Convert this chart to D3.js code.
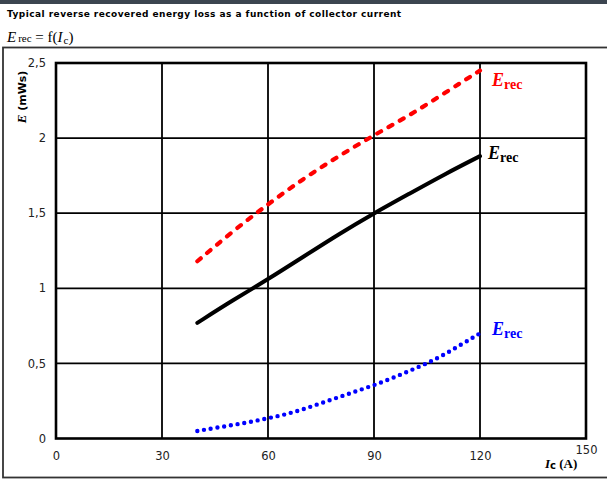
<!DOCTYPE html>
<html>
<head>
<meta charset="utf-8">
<script src="https://cdn.jsdelivr.net/npm/d3@7"></script>
<style>
  html, body { margin: 0; padding: 0; background: #fff; }
  svg { display: block; }
</style>
</head>
<body>
<script>
// Reverse recovered energy vs. collector current (three curves)
const currents = [40, 50, 60, 70, 80, 90, 100, 110, 120];
const erecHot = [1.18, 1.38, 1.56, 1.73, 1.88, 2.02, 2.15, 2.30, 2.45];
const erecMid = [0.77, 0.92, 1.06, 1.21, 1.36, 1.50, 1.63, 1.76, 1.88];
const currentsLow = [40, 45, 50, 55, 60, 65, 70, 75, 80, 85, 90, 95, 100, 105, 110, 115, 120];
const erecLow = [0.05, 0.07, 0.09, 0.11, 0.135, 0.16, 0.195, 0.235, 0.275, 0.315, 0.355, 0.40, 0.45, 0.50, 0.56, 0.63, 0.70];
const xTicks = [0, 30, 60, 90, 120, 150];
const yTicks = [0, 0.5, 1, 1.5, 2, 2.5];

const W = 607, H = 479;
const svg = d3.select("body").append("svg").attr("width", W).attr("height", H);

// header band and outer frame
svg.append("rect").attr("x", 0).attr("y", 0).attr("width", W).attr("height", 4).attr("fill", "#3c4550");
svg.append("text").attr("x", 7).attr("y", 17)
  .attr("font-family", "DejaVu Sans, Verdana, sans-serif").attr("font-size", 9).attr("font-weight", "bold")
  .attr("letter-spacing", 0.45).attr("fill", "#000")
  .text("Typical reverse recovered energy loss as a function of collector current");

const f = svg.append("text").attr("x", 7).attr("y", 42)
  .attr("font-family", "Liberation Serif, DejaVu Serif, serif").attr("font-size", 15).attr("fill", "#000");
f.append("tspan").attr("font-style", "italic").text("E");
f.append("tspan").attr("font-size", 11).attr("dx", 2).text("rec");
f.append("tspan").text(" = f(");
f.append("tspan").attr("font-style", "italic").text("I");
f.append("tspan").attr("font-size", 11).attr("dy", 2).attr("dx", 1).text("c");
f.append("tspan").attr("dy", -2).text(")");

svg.append("rect").attr("x", 3).attr("y", 47.5).attr("width", W + 10).attr("height", 430)
  .attr("fill", "none").attr("stroke", "#333").attr("stroke-width", 1.8);

// scales
const x = d3.scaleLinear().domain([0, 150]).range([56, 586]);
const y = d3.scaleLinear().domain([0, 2.5]).range([438.5, 63]);

// grid
const g = svg.append("g");
g.selectAll(".vg").data(xTicks.slice(1, -1)).join("line")
  .attr("x1", d => x(d)).attr("x2", d => x(d)).attr("y1", y(0)).attr("y2", y(2.5))
  .attr("stroke", "#000").attr("stroke-width", 1.8);
g.selectAll(".hg").data(yTicks.slice(1, -1)).join("line")
  .attr("x1", x(0)).attr("x2", x(150)).attr("y1", d => y(d)).attr("y2", d => y(d))
  .attr("stroke", "#000").attr("stroke-width", 1.8);
g.append("rect").attr("x", x(0)).attr("y", y(2.5)).attr("width", x(150) - x(0)).attr("height", y(0) - y(2.5))
  .attr("fill", "none").attr("stroke", "#000").attr("stroke-width", 2.6);

// axes (labels only)
const fmt = d => String(d).replace(".", ",");
const xAxis = svg.append("g").attr("transform", `translate(0,${y(0)})`)
  .call(d3.axisBottom(x).tickValues(xTicks).tickSize(0).tickPadding(13).tickFormat(fmt));
xAxis.select(".domain").remove();
xAxis.selectAll("text").attr("font-family", "DejaVu Sans, Verdana, sans-serif").attr("font-size", 11.5).attr("fill", "#222");
xAxis.selectAll(".tick").filter(d => d === 150).select("text").attr("dy", "0.2em");

const yAxis = svg.append("g").attr("transform", `translate(${x(0)},0)`)
  .call(d3.axisLeft(y).tickValues(yTicks).tickSize(0).tickPadding(10).tickFormat(fmt));
yAxis.select(".domain").remove();
yAxis.selectAll("text").attr("font-family", "DejaVu Sans, Verdana, sans-serif").attr("font-size", 11.5).attr("fill", "#222");

// axis titles
const yt = svg.append("text").attr("transform", "translate(26,97) rotate(-90)").attr("text-anchor", "middle")
  .attr("font-family", "DejaVu Sans, Verdana, sans-serif").attr("font-size", 11).attr("font-weight", "bold").attr("fill", "#000");
yt.append("tspan").attr("font-family", "Liberation Serif, serif").attr("font-style", "italic").attr("font-size", 13).text("E");
yt.append("tspan").text(" (mWs)");

const xt = svg.append("text").attr("x", 545).attr("y", 468)
  .attr("font-family", "Liberation Serif, DejaVu Serif, serif").attr("font-size", 13).attr("font-weight", "bold").attr("fill", "#000");
xt.append("tspan").attr("font-style", "italic").text("I");
xt.append("tspan").attr("font-family", "DejaVu Sans, sans-serif").attr("font-size", 10).attr("dy", 1).text("c");
xt.append("tspan").attr("dy", -1).text(" (A)");

// curves
const line = d3.line().x(d => x(d[0])).y(d => y(d[1])).curve(d3.curveBasis);
const plot = svg.append("g");
plot.append("path").datum(d3.zip(currents, erecHot)).attr("d", line)
  .attr("fill", "none").attr("stroke", "#ff0000").attr("stroke-width", 4.2)
  .attr("stroke-linecap", "round").attr("stroke-dasharray", "4.5,8.5");
plot.append("path").datum(d3.zip(currents, erecMid)).attr("d", line)
  .attr("fill", "none").attr("stroke", "#000").attr("stroke-width", 4).attr("stroke-linecap", "round");
plot.append("path").datum(d3.zip(currentsLow, erecLow)).attr("d", line)
  .attr("fill", "none").attr("stroke", "#0000ff").attr("stroke-width", 4.4)
  .attr("stroke-linecap", "round").attr("stroke-dasharray", "0,6.8");

// curve labels
function erecLabel(px, py, color) {
  const t = svg.append("text").attr("x", px).attr("y", py)
    .attr("font-family", "Liberation Serif, DejaVu Serif, serif").attr("font-weight", "bold")
    .attr("font-size", 18).attr("fill", color);
  t.append("tspan").attr("font-style", "italic").text("E");
  t.append("tspan").attr("font-size", 14).attr("dy", 3).text("rec");
}
erecLabel(x(120) + 12, y(2.45) + 15, "#ff0000");
erecLabel(x(120) + 8, y(1.88) + 3, "#000");
erecLabel(x(120) + 12, y(0.70) + 2, "#0000ff");
</script>
</body>
</html>
